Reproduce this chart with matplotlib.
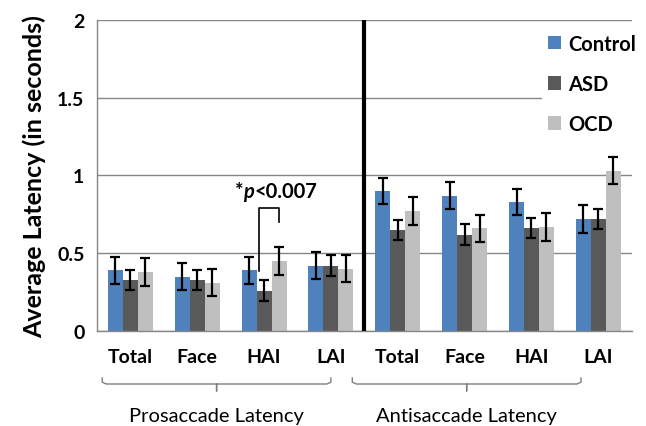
import matplotlib
matplotlib.use("Agg")
import matplotlib.pyplot as plt
import matplotlib.transforms as mtransforms
from matplotlib.offsetbox import TextArea, HPacker, AnnotationBbox
import numpy as np

plt.rcParams['font.family'] = ['Lato', 'DejaVu Sans']

# Data
categories = ["Total", "Face", "HAI", "LAI", "Total", "Face", "HAI", "LAI"]
groups = ["Prosaccade Latency", "Antisaccade Latency"]
series = ["Control", "ASD", "OCD"]

control = [0.39, 0.35, 0.39, 0.42, 0.90, 0.87, 0.83, 0.72]
asd = [0.33, 0.33, 0.26, 0.42, 0.65, 0.62, 0.66, 0.72]
ocd = [0.38, 0.31, 0.45, 0.40, 0.77, 0.66, 0.67, 1.03]

control_err = [0.085, 0.087, 0.085, 0.086, 0.085, 0.085, 0.086, 0.087]
asd_err = [0.065, 0.065, 0.068, 0.067, 0.065, 0.065, 0.064, 0.067]
ocd_err = [0.088, 0.088, 0.089, 0.088, 0.090, 0.088, 0.090, 0.088]

colors = ["#4F81BD", "#595959", "#BFBFBF"]

fig = plt.figure(figsize=(6.46, 4.27), dpi=100)
ax = fig.add_axes([0.150, 0.2225, 0.828, 0.7285])

x = np.arange(len(categories))
w = 0.224
for i, (vals, errs, c, name) in enumerate(zip([control, asd, ocd],
                                                [control_err, asd_err, ocd_err],
                                                colors, series)):
    ax.bar(x + (i - 1) * w, vals, width=w, color=c, label=name, zorder=2)
    ax.errorbar(x + (i - 1) * w, vals, yerr=errs, fmt='none', ecolor='black',
                elinewidth=1.6, capsize=3.5, capthick=1.6, zorder=3)

ax.set_xlim(-0.5, 7.5)
ax.set_ylim(0, 2)
ax.set_yticks([0, 0.5, 1, 1.5, 2])
ax.set_yticklabels(["0", "0.5", "1", "1.5", "2"])
ax.set_xticks(x)
ax.set_xticklabels(categories)
ax.tick_params(axis='both', length=0, labelsize=14)
ax.tick_params(axis='x', pad=12)
ax.tick_params(axis='y', pad=9)
for lbl in ax.get_xticklabels() + ax.get_yticklabels():
    lbl.set_fontweight('bold')

ax.yaxis.grid(True, color='#868686', linewidth=1, zorder=0)
ax.set_axisbelow(True)
for s in ['top', 'right']:
    ax.spines[s].set_visible(False)
for s in ['left', 'bottom']:
    ax.spines[s].set_color('#868686')
    ax.spines[s].set_linewidth(1)

# divider between prosaccade and antisaccade blocks
ax.axvline(3.5, color='black', linewidth=3, zorder=4)

ax.set_ylabel("Average Latency (in seconds)", fontsize=18, fontweight='bold', labelpad=8)

# significance bracket
bx0, bx1 = 2 - 0.07, 2 + w
ax.plot([bx0, bx0, bx1, bx1], [0.383, 0.793, 0.793, 0.703], color='black',
        linewidth=1.2, zorder=4)
sig_style = dict(fontsize=14.5, fontweight='bold', color='black')
parts = [TextArea("*", textprops=sig_style),
         TextArea("p", textprops=dict(sig_style, fontstyle='italic')),
         TextArea("<0.007", textprops=sig_style)]
box = HPacker(children=parts, pad=0, sep=0.5, align='baseline')
ab = AnnotationBbox(box, (2.17, 0.9), xycoords='data', frameon=False,
                    box_alignment=(0.5, 0.5), zorder=5)
ax.add_artist(ab)

# legend
leg = ax.legend(loc='upper left', bbox_to_anchor=(0.832, 0.975), frameon=True,
                fontsize=14.5, handlelength=0.65, handleheight=0.65,
                handletextpad=0.35, labelspacing=1.0, borderaxespad=0,
                borderpad=0.3)
leg.get_frame().set_facecolor('white')
leg.get_frame().set_edgecolor('none')
leg.get_frame().set_alpha(1)
for t in leg.get_texts():
    t.set_fontweight('bold')

# group braces under the category labels
trans = mtransforms.blended_transform_factory(ax.transData, fig.transFigure)
def px(y):
    return 1 - y / 427.0

def brace(xa, xb, label):
    xm = (xa + xb) / 2
    r = 0.06
    ys, yh, yt = px(379), px(385), px(392)
    xs = [xa, xa, xa + r, xm - r, xm, xm, xm, xm + r, xb - r, xb, xb]
    ys_ = [ys, yh + (ys - yh) * 0.3, yh, yh, yh, yt,
           yh, yh, yh, yh + (ys - yh) * 0.3, ys]
    ax.plot(xs, ys_, transform=trans, color='#7f7f7f', linewidth=1,
            clip_on=False)
    t = fig.text(0, px(425), label, fontsize=14.5, ha='center', va='bottom')
    t.set_transform(trans)
    t.set_x(xm)

brace(-0.42, 3.0, groups[0])
brace(3.32, 6.74, groups[1])

fig.savefig("out.png", dpi=100)
